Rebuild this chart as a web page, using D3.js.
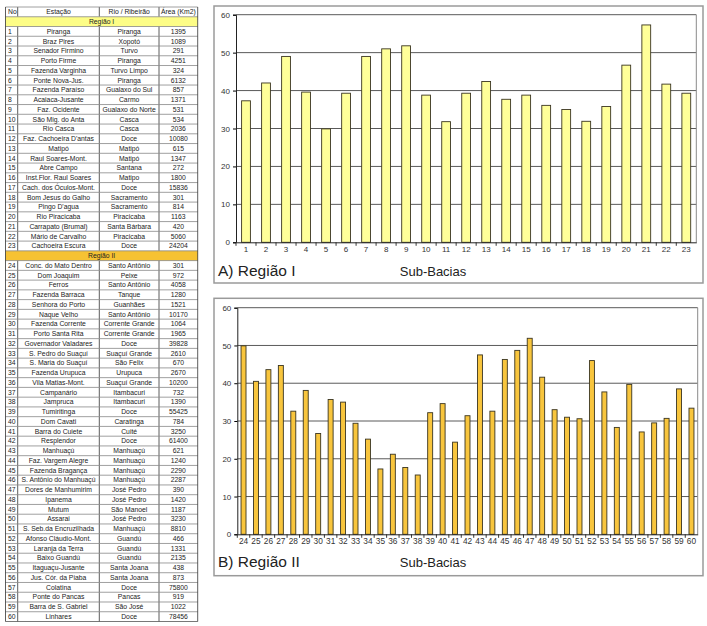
<!DOCTYPE html>
<html><head><meta charset="utf-8">
<script src="https://cdn.jsdelivr.net/npm/d3@7"></script>
<style>body{margin:0;background:#fff}svg{display:block}text{font-family:"Liberation Sans",Arial,sans-serif}</style>
</head><body><svg id="c" width="707" height="626"></svg>
<script>
// ---------- DATA ----------
const tableHeaders = ["No", "Estação", "Rio / Ribeirão", "Área (Km2)"];
const regionLabels = ["Região I", "Região II"];
const stationNoI = d3.range(1, 24).map(String);
const stationNameI = ["Piranga","Braz Pires","Senador Firmino","Porto Firme","Fazenda Varginha","Ponte Nova-Jus.","Fazenda Paraíso","Acaiaca-Jusante","Faz. Ocidente","São Mig. do Anta","Rio Casca","Faz. Cachoeira D'antas","Matipó","Raul Soares-Mont.","Abre Campo","Inst.Flor. Raul Soares","Cach. dos Óculos-Mont.","Bom Jesus do Galho","Pingo D'agua","Rio Piracicaba","Carrapato (Brumal)","Mário de Carvalho","Cachoeira Escura"];
const riverI = ["Piranga","Xopotó","Turvo","Piranga","Turvo Limpo","Piranga","Gualaxo do Sul","Carmo","Gualaxo do Norte","Casca","Casca","Doce","Matipó","Matipó","Santana","Matipo","Doce","Sacramento","Sacramento","Piracicaba","Santa Bárbara","Piracicaba","Doce"];
const areaI = ["1395","1089","291","4251","324","6132","857","1371","531","534","2036","10080","615","1347","272","1800","15836","301","814","1163","420","5060","24204"];
const stationNoII = d3.range(24, 61).map(String);
const stationNameII = ["Conc. do Mato Dentro","Dom Joaquim","Ferros","Fazenda Barraca","Senhora do Porto","Naque Velho","Fazenda Corrente","Porto Santa Rita","Governador Valadares","S. Pedro do Suaçuí","S. Maria do Suaçuí","Fazenda Urupuca","Vila Matias-Mont.","Campanário","Jampruca","Tumiritinga","Dom Cavati","Barra do Cuiete","Resplendor","Manhuaçú","Faz. Vargem Alegre","Fazenda Bragança","S. Antônio do Manhuaçú","Dores de Manhumirim","Ipanema","Mutum","Assarai","S. Seb.da Encruzilhada","Afonso Cláudio-Mont.","Laranja da Terra","Baixo Guandú","Itaguaçu-Jusante","Jus. Cór. da Piaba","Colatina","Ponte do Pancas","Barra de S. Gabriel","Linhares"];
const riverII = ["Santo Antônio","Peixe","Santo Antônio","Tanque","Guanhães","Santo Antônio","Corrente Grande","Corrente Grande","Doce","Suaçuí Grande","São Felix","Urupuca","Suaçuí Grande","Itambacuri","Itambacuri","Doce","Caratinga","Cuité","Doce","Manhuaçú","Manhuaçú","Manhuaçú","Manhuaçú","José Pedro","José Pedro","São Manoel","José Pedro","Manhuaçú","Guandú","Guandú","Guandú","Santa Joana","Santa Joana","Doce","Pancas","São José","Doce"];
const areaII = ["301","972","4058","1280","1521","10170","1064","1965","39828","2610","670","2670","10200","732","1390","55425","784","3250","61400","621","1240","2290","2287","390","1420","1187","3230","8810","466","1331","2135","438","873","75800","919","1022","78456"];

const subBasinsI = stationNoI;
const valuesI = [37.3,42.0,49.0,39.6,29.9,39.3,49.0,51.0,51.8,38.8,31.8,39.3,42.4,37.7,38.8,36.1,35.0,31.9,35.8,46.7,57.3,41.7,39.3];
const subBasinsII = stationNoII;
const valuesII = [49.9,40.5,43.6,44.7,32.6,38.1,26.7,35.7,35.0,29.4,25.2,17.3,21.2,17.7,15.7,32.2,34.6,24.4,31.4,47.5,32.6,46.3,48.7,51.9,41.6,33.0,31.0,30.6,46.0,37.7,28.3,39.7,27.1,29.5,30.7,38.5,33.4];
const yTicks = [0,10,20,30,40,50,60];
const titleI = "A) Região I", titleII = "B) Região II", xTitle = "Sub-Bacias";

// ---------- TABLE ----------
const svg = d3.select("#c");
const colEdges = [5.5, 17.7, 99.3, 159, 197.7];
const rows = [{type:"header"}, {type:"region", label: regionLabels[0], fill:"#fdfd86"}];
stationNoI.forEach((n,i)=>rows.push({type:"row", c:[n, stationNameI[i], riverI[i], areaI[i]]}));
rows.push({type:"region", label: regionLabels[1], fill:"#f6c233"});
stationNoII.forEach((n,i)=>rows.push({type:"row", c:[n, stationNameII[i], riverII[i], areaII[i]]}));
const yRow = d3.scaleBand().domain(d3.range(rows.length)).range([7, 621.5]).padding(0);
const rh = yRow.bandwidth();
const tbl = svg.append("g");
rows.forEach((r,i)=>{
  const y = yRow(i);
  if (r.type === "region") {
    tbl.append("rect").attr("x", colEdges[0]).attr("y", y).attr("width", colEdges[4]-colEdges[0]).attr("height", rh).attr("fill", r.fill);
    tbl.append("text").attr("x", (colEdges[0]+colEdges[4])/2).attr("y", y+rh/2).attr("dy","0.35em")
      .attr("text-anchor","middle").attr("font-size", 6.8).attr("fill","#222").text(r.label);
  } else {
    const cells = r.type === "header" ? tableHeaders : r.c;
    cells.forEach((t,j)=>{
      const left = j===0;
      tbl.append("text").attr("x", left ? colEdges[0]+2.5 : (colEdges[j]+colEdges[j+1])/2)
        .attr("y", y+rh/2).attr("dy","0.35em").attr("text-anchor", left ? "start":"middle")
        .attr("font-size", 6.8).attr("fill","#222").text(t);
    });
    for (let j=1;j<4;j++) tbl.append("line").attr("x1",colEdges[j]).attr("x2",colEdges[j]).attr("y1",y).attr("y2",y+rh).attr("stroke","#333").attr("stroke-width",0.8);
  }
  tbl.append("line").attr("x1",colEdges[0]).attr("x2",colEdges[4]).attr("y1",y).attr("y2",y).attr("stroke","#888").attr("stroke-width",0.8);
});
tbl.append("line").attr("x1",colEdges[0]).attr("x2",colEdges[4]).attr("y1",621.5).attr("y2",621.5).attr("stroke","#555").attr("stroke-width",0.8);
[colEdges[0], colEdges[4]].forEach(x=>tbl.append("line").attr("x1",x).attr("x2",x).attr("y1",7).attr("y2",621.5).attr("stroke","#333").attr("stroke-width",0.8));

// ---------- CHARTS ----------
function drawChart(o){
  const g = svg.append("g");
  g.append("rect").attr("x",o.panel[0]).attr("y",o.panel[1]).attr("width",o.panel[2]-o.panel[0]).attr("height",o.panel[3]-o.panel[1])
    .attr("fill","#fff").attr("stroke","#9a9a9a").attr("stroke-width",1.5);
  const x = d3.scaleBand().domain(o.cats).range([o.plot[0], o.plot[2]]).paddingInner(o.pad).paddingOuter(o.pad/2);
  const y = d3.scaleLinear().domain([0,60]).range([o.plot[3], o.plot[1]]);
  // grid
  g.append("g").selectAll("line").data(yTicks.slice(1)).join("line")
    .attr("x1",o.plot[0]).attr("x2",o.plot[2]).attr("y1",d=>y(d)).attr("y2",d=>y(d))
    .attr("stroke","#5a5a5a").attr("stroke-width",1);
  g.append("line").attr("x1",o.plot[2]).attr("x2",o.plot[2]).attr("y1",y(60)).attr("y2",y(0)).attr("stroke","#8a8a8a").attr("stroke-width",1);
  // bars
  g.append("g").selectAll("rect").data(o.vals).join("rect")
    .attr("x",(d,i)=>x(o.cats[i])).attr("width",x.bandwidth())
    .attr("y",d=>y(d)).attr("height",d=>y(0)-y(d))
    .attr("fill",o.fill).attr("stroke","#3a3520").attr("stroke-width",0.9);
  // y axis
  const ya = g.append("g").attr("transform",`translate(${o.plot[0]},0)`)
    .call(d3.axisLeft(y).tickValues(yTicks).tickSize(3).tickPadding(3).tickFormat(d3.format("d")));
  ya.select(".domain").attr("stroke","#222");
  ya.selectAll("text").attr("font-size",8).attr("fill","#333").style("font-family","Liberation Sans, Arial");
  // x axis
  const xa = g.append("g").attr("transform",`translate(0,${o.plot[3]})`)
    .call(d3.axisBottom(x).tickSize(0).tickPadding(4).tickSizeOuter(0));
  xa.select(".domain").attr("stroke","#222");
  xa.selectAll("text").attr("font-size",o.xfs).attr("fill","#333").style("font-family","Liberation Sans, Arial");
  const off = x.step()*o.pad/2;
  g.append("g").selectAll("line").data(o.cats).join("line")
    .attr("x1",d=>x(d)-off).attr("x2",d=>x(d)-off).attr("y1",o.plot[3]).attr("y2",o.plot[3]+3.5)
    .attr("stroke","#222").attr("stroke-width",0.9);
  g.append("text").attr("x",o.panel[0]+4).attr("y",o.titleY).attr("font-size",15.5).attr("fill","#222").text(o.title);
  g.append("text").attr("x",433).attr("y",o.titleY).attr("text-anchor","middle").attr("font-size",13).attr("fill","#222").text(xTitle);
}
drawChart({panel:[214,6,703,283], plot:[236,14.7,696.3,242.3], cats:subBasinsI, vals:valuesI, pad:0.56, fill:"#ffff99", xfs:8, title:titleI, titleY:276});
drawChart({panel:[214,298.3,703,575.7], plot:[237.3,307.7,697.7,534.3], cats:subBasinsII, vals:valuesII, pad:0.6, fill:"#f8c53d", xfs:8.3, title:titleII, titleY:567});
</script></body></html>
